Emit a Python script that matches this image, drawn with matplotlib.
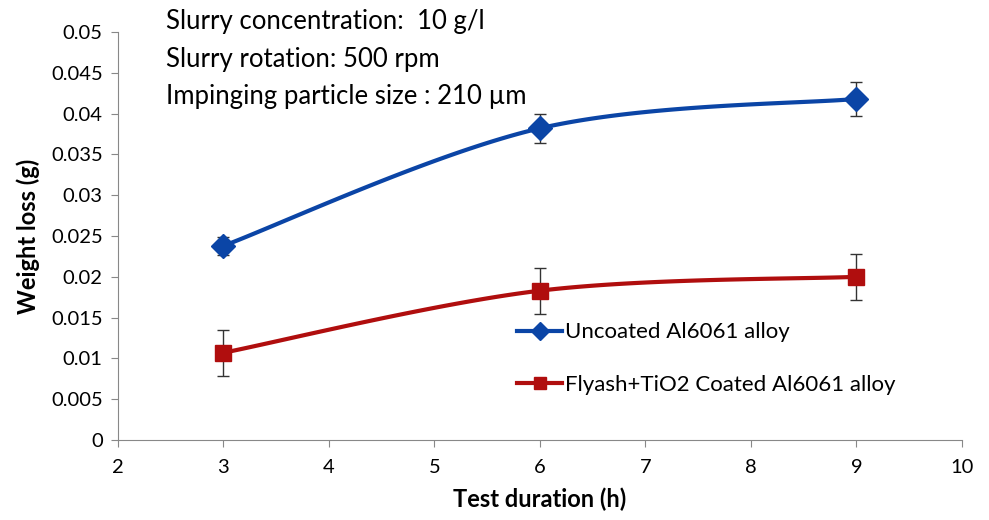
import numpy as np
import matplotlib.pyplot as plt

plt.rcParams['font.family'] = ['Lato', 'DejaVu Sans']

hours = [3, 6, 9]
uncoated = [0.0238, 0.0382, 0.0418]
uncoated_err = [0.0011, 0.0018, 0.0021]
coated = [0.0107, 0.0183, 0.0200]
coated_err = [0.0028, 0.0028, 0.0028]

notes = ["Slurry concentration:  10 g/l",
         "Slurry rotation: 500 rpm",
         "Impinging particle size : 210 \u00b5m"]


def smooth(xs, ys, n=60):
    # piecewise cubic bezier through the points (spreadsheet-style smoothing)
    p = np.column_stack([xs, ys]).astype(float)
    ext = np.vstack([p[0], p, p[-1]])
    out = []
    t = np.linspace(0, 1, n)[:, None]
    for i in range(len(p) - 1):
        p0, p3 = p[i], p[i + 1]
        c1 = p0 + (ext[i + 2] - ext[i]) / 6
        c2 = p3 - (ext[i + 3] - ext[i + 1]) / 6
        seg = ((1 - t) ** 3) * p0 + 3 * ((1 - t) ** 2) * t * c1 + 3 * (1 - t) * t ** 2 * c2 + t ** 3 * p3
        out.append(seg)
    out = np.vstack(out)
    return out[:, 0], out[:, 1]


fig = plt.figure(figsize=(9.89, 5.2), dpi=100)
ax = fig.add_axes([0.1193, 0.1538, 0.8534, 0.7847])

blue = "#0b45a6"
red = "#b00e0e"

sx, sy = smooth(hours, uncoated)
ax.plot(sx, sy, color=blue, lw=3, zorder=3)
ax.errorbar(hours, uncoated, yerr=uncoated_err, fmt='none', ecolor='#333333',
            elinewidth=1, capsize=4.5, capthick=1, zorder=2)
ax.plot(hours, uncoated, 'D', color=blue, ms=12, zorder=4)

sx, sy = smooth(hours, coated)
ax.plot(sx, sy, color=red, lw=3, zorder=3)
ax.errorbar(hours, coated, yerr=coated_err, fmt='none', ecolor='#333333',
            elinewidth=1, capsize=4.5, capthick=1, zorder=2)
ax.plot(hours, coated, 's', color=red, ms=11, zorder=4)

# legend handles
h1, = ax.plot([], [], color=blue, lw=3, marker='D', ms=9, label="Uncoated Al6061 alloy")
h2, = ax.plot([], [], color=red, lw=3, marker='s', ms=9, label="Flyash+TiO2 Coated Al6061 alloy")
ax.legend(handles=[h1, h2], loc='center left', bbox_to_anchor=(0.46, 0.20),
          frameon=False, fontsize=16, handlelength=2.0, handletextpad=0.15,
          labelspacing=1.45, borderpad=0)

ax.set_xlim(2, 10)
ax.set_ylim(0, 0.05)
ax.set_xticks(range(2, 11))
ax.set_yticks(np.arange(0, 0.0501, 0.005))
ax.set_yticklabels(["0", "0.005", "0.01", "0.015", "0.02", "0.025", "0.03",
                    "0.035", "0.04", "0.045", "0.05"])

for s in ['top', 'right']:
    ax.spines[s].set_visible(False)
for s in ['left', 'bottom']:
    ax.spines[s].set_color('#888888')
ax.tick_params(colors='#888888', labelcolor='black', labelsize=14.5, length=5)
ax.tick_params(axis='x', pad=9)
ax.tick_params(axis='y', pad=6)

ax.set_xlabel("Test duration (h)", fontsize=17, fontweight='bold', labelpad=8)
ax.set_ylabel("Weight loss (g)", fontsize=17, fontweight='bold', labelpad=8)

for i, line in enumerate(notes):
    fig.text(0.168, 0.958 - i * 0.072, line, fontsize=18.5, va='center')

fig.savefig("out.png", dpi=100)
